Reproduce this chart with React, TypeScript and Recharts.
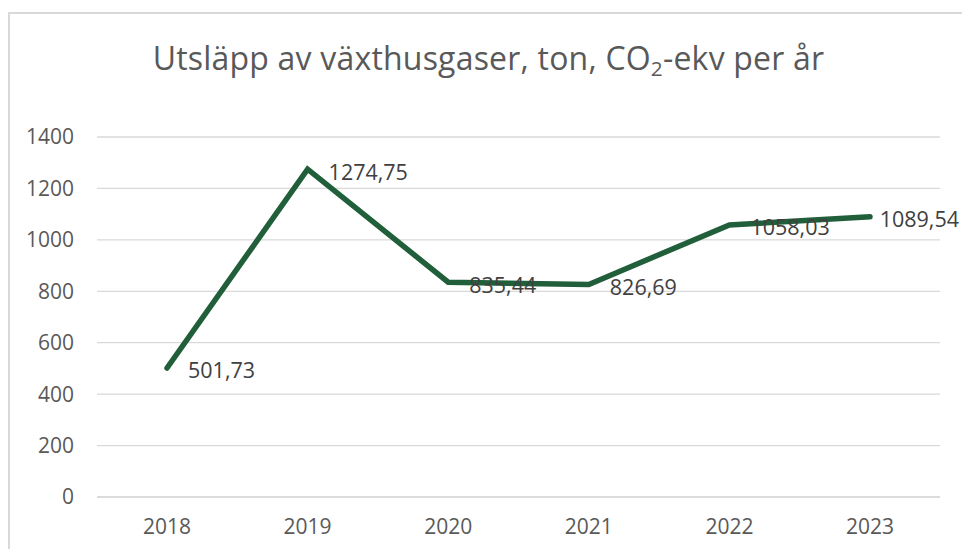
import { CartesianGrid, LabelList, Line, LineChart, XAxis, YAxis } from "recharts";

const years = ["2018", "2019", "2020", "2021", "2022", "2023"];
const emissions = [501.73, 1274.75, 835.44, 826.69, 1058.03, 1089.54];
const yTicks = [0, 200, 400, 600, 800, 1000, 1200, 1400];

const data = years.map((year, i) => ({ year, value: emissions[i] }));

const FONT = "'Open Sans', sans-serif";
const LINE_COLOR = "#215e3a";

const fmt = (v: number) => v.toFixed(2).replace(".", ",");

// Excel-style "right" data label, pushed back inside if it would run off the edge
function ValueLabel(props: any) {
  const { x, y, value } = props;
  const text = fmt(Number(value));
  const w = text.length * 11.4;
  const fitsRight = x + 21 + w < 959;
  return (
    <text
      x={fitsRight ? x + 21 : 959}
      y={y + 2}
      textAnchor={fitsRight ? "start" : "end"}
      dominantBaseline="central"
      fontSize={21.5}
      fontFamily={FONT}
      fill="#404040"
    >
      {text}
    </text>
  );
}

export default function App() {
  return (
    <div style={{ position: "fixed", left: 0, top: 0, width: 962, height: 549, background: "#fff" }}>
      <div
        style={{
          position: "fixed",
          left: 8,
          top: 12,
          width: 980,
          height: 580,
          borderLeft: "2px solid #d9d9d9",
          borderTop: "2px solid #d9d9d9",
        }}
      />
      <div
        style={{
          position: "fixed",
          left: 0,
          width: 977,
          top: 36,
          lineHeight: "44px",
          textAlign: "center",
          fontFamily: FONT,
          fontSize: 32,
          color: "#595959",
          letterSpacing: "0.2px",
        }}
      >
        Utsläpp av växthusgaser, ton, CO<sub style={{ fontSize: "0.65em", verticalAlign: "-0.3em" }}>2</sub>-ekv per år
      </div>
      <div style={{ position: "fixed", left: 0, top: 0 }}>
        <LineChart width={962} height={549} data={data} margin={{ top: 137, right: 22, bottom: 12, left: 37 }}>
          <CartesianGrid horizontal vertical={false} stroke="#d9d9d9" strokeWidth={1.3} />
          <XAxis
            dataKey="year"
            padding={{ left: 70, right: 70 }}
            height={40}
            axisLine={{ stroke: "#d9d9d9", strokeWidth: 1.3 }}
            tickLine={false}
            tickSize={0}
            tickMargin={22}
            tick={{ fontSize: 21, fontFamily: FONT, fill: "#595959" }}
          />
          <YAxis
            width={60}
            domain={[0, 1400]}
            ticks={yTicks}
            axisLine={false}
            tickLine={false}
            tickSize={0}
            tickMargin={23}
            tick={{ fontSize: 21, fontFamily: FONT, fill: "#595959" }}
          />
          <Line
            dataKey="value"
            stroke={LINE_COLOR}
            strokeWidth={5.5}
            strokeLinecap="round"
            dot={false}
            isAnimationActive={false}
          >
            <LabelList dataKey="value" content={ValueLabel} />
          </Line>
        </LineChart>
      </div>
    </div>
  );
}
